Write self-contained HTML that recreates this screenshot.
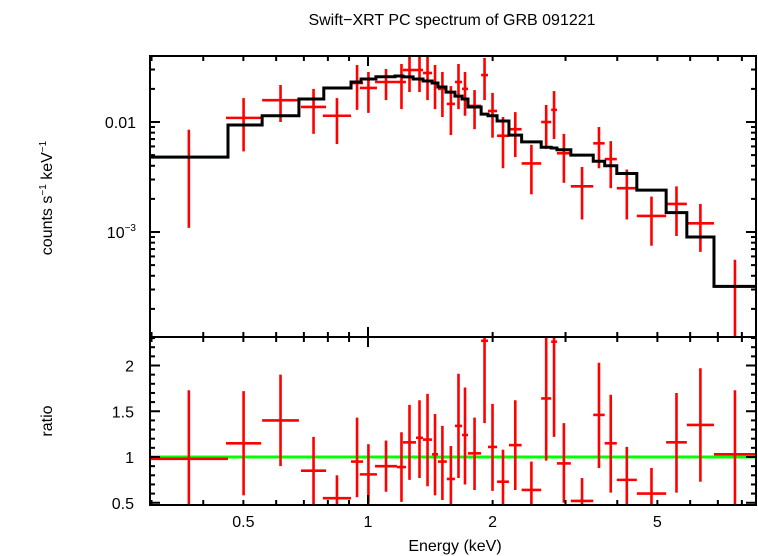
<!DOCTYPE html>
<html><head><meta charset="utf-8"><style>
body{margin:0;background:#fff}
svg{display:block;font-family:"Liberation Sans",sans-serif}
</style></head><body>
<svg id="chart" width="758" height="556" viewBox="0 0 758 556" xmlns="http://www.w3.org/2000/svg">
<defs>
<clipPath id="ctop"><rect x="150" y="56" width="606" height="281"/></clipPath>
<clipPath id="cbot"><rect x="150" y="337" width="606" height="168"/></clipPath>
</defs>
<text x="452" y="25" font-size="16" text-anchor="middle">Swift−XRT PC spectrum of GRB 091221</text>
<text transform="translate(52,198) rotate(-90)" font-size="16" text-anchor="middle">counts s<tspan font-size="10" dy="-6">−1</tspan><tspan dy="6"> keV</tspan><tspan font-size="10" dy="-6">−1</tspan></text>
<text transform="translate(52,421) rotate(-90)" font-size="16" text-anchor="middle">ratio</text>
<text x="455" y="551" font-size="16" text-anchor="middle">Energy (keV)</text>
<g id="gTop"></g>
<g id="gBot"></g>
<g id="gAxes"></g>
</svg>
<script>
const modelEdges=[0.297,0.459,0.555,0.681,0.782,0.910,0.962,1.045,1.162,1.215,1.285,1.358,1.428,1.476,1.543,1.622,1.687,1.744,1.876,1.949,2.05,2.19,2.35,2.62,2.77,2.86,3.09,3.50,3.73,3.99,4.46,5.25,5.89,6.85,8.65];
const modelVals=[0.0048,0.0094,0.0114,0.0162,0.0204,0.0231,0.0246,0.0258,0.0262,0.0257,0.0246,0.0236,0.0226,0.0208,0.0187,0.0172,0.0162,0.0137,0.0118,0.0114,0.0102,0.0076,0.0066,0.0059,0.0058,0.0056,0.0050,0.0044,0.0040,0.0034,0.0024,0.0015,0.00090,0.00032];
const eLo=[0.297,0.454,0.555,0.689,0.778,0.910,0.956,1.040,1.175,1.215,1.306,1.358,1.428,1.476,1.55,1.622,1.687,1.744,1.876,1.949,2.05,2.19,2.35,2.62,2.77,2.86,3.09,3.50,3.73,3.99,4.46,5.25,5.89,6.85];
const eHi=[0.459,0.552,0.681,0.792,0.910,0.973,1.051,1.175,1.235,1.306,1.358,1.428,1.476,1.55,1.622,1.687,1.744,1.876,1.949,2.05,2.19,2.35,2.62,2.77,2.86,3.09,3.50,3.73,3.99,4.46,5.25,5.89,6.85,8.65];
const flux=[0.0048,0.0109,0.0158,0.0137,0.0114,0.0226,0.0204,0.0231,0.0231,0.0297,0.0297,0.0279,0.0226,0.0200,0.0146,0.0231,0.0200,0.0140,0.0267,0.0126,0.0075,0.0086,0.0042,0.0100,0.0129,0.0052,0.0026,0.0064,0.0046,0.0025,0.0014,0.0018,0.0012,0.00032];
const fluxHi=[0.0085,0.0165,0.0217,0.0200,0.0165,0.0330,0.0285,0.0303,0.0337,0.0406,0.0406,0.0406,0.0330,0.0285,0.0212,0.0337,0.0285,0.0195,0.0382,0.0184,0.0111,0.0123,0.0062,0.0143,0.0191,0.0078,0.0039,0.0090,0.0067,0.0037,0.0021,0.0026,0.0018,0.00056];
const fluxLo=[0.00109,0.0054,0.0100,0.0078,0.0063,0.0129,0.0121,0.0158,0.0131,0.0187,0.0187,0.0158,0.0131,0.0111,0.0076,0.0131,0.0114,0.0086,0.0158,0.0072,0.0038,0.0048,0.0022,0.0057,0.0070,0.0028,0.0013,0.0038,0.0025,0.0013,0.00075,0.00092,0.00066,0.00005];
const ratio=[0.98,1.15,1.40,0.85,0.55,0.95,0.81,0.90,0.89,1.16,1.21,1.19,1.03,0.95,0.76,1.34,1.24,1.04,2.27,1.11,0.73,1.13,0.64,1.64,2.26,0.93,0.52,1.46,1.15,0.75,0.60,1.16,1.35,1.03];
const ratioHi=[1.73,1.72,1.90,1.22,0.80,1.43,1.14,1.18,1.27,1.57,1.62,1.69,1.47,1.34,1.12,1.91,1.76,1.43,2.6,1.58,1.08,1.62,0.95,2.6,2.6,1.37,0.77,2.03,1.68,1.11,0.88,1.70,1.97,1.73];
const ratioLo=[0.4,0.58,0.90,0.47,0.4,0.56,0.49,0.62,0.51,0.75,0.77,0.68,0.58,0.53,0.4,0.77,0.70,0.64,1.37,0.63,0.4,0.64,0.4,0.96,1.22,0.50,0.4,0.88,0.61,0.4,0.4,0.61,0.73,0.4];
const topTickVals=[0.01,0.001];
const ratioTickVals=[0.5,1,1.5,2];
const xTickVals=[0.5,1,2,5];
const xTickLabels=["0.5","1","2","5"];

const X0=150,X1=756,YT0=56,YT1=337,YB1=505;
const xs=e=>368+414*Math.log10(e);
const yf=f=>122-110*(Math.log10(f)+2);
const yr=r=>457-91.5*(r-1);
const NS="http://www.w3.org/2000/svg";
function mk(tag,attrs,parent){const el=document.createElementNS(NS,tag);for(const k in attrs)el.setAttribute(k,attrs[k]);parent.appendChild(el);return el;}
const gTop=document.getElementById('gTop'),gBot=document.getElementById('gBot'),gA=document.getElementById('gAxes');
const ct=mk('g',{'clip-path':'url(#ctop)'},gTop);
const cb=mk('g',{'clip-path':'url(#cbot)'},gBot);

// data top
for(let i=0;i<flux.length;i++){
  const xc=xs(Math.sqrt(eLo[i]*eHi[i]));
  const g=mk('g',{stroke:'#ff0000','stroke-width':2.6,fill:'none'},ct);
  
  
  mk('line',{x1:xs(eLo[i]),x2:xs(eHi[i]),y1:yf(flux[i]),y2:yf(flux[i])},g);
  mk('line',{x1:xc,x2:xc,y1:yf(fluxHi[i]),y2:yf(fluxLo[i])},g);
}
// model
let d='';
for(let i=0;i<modelVals.length;i++){
  const y=yf(modelVals[i]);
  d+=(i===0?'M':'L')+xs(modelEdges[i])+','+y+'L'+xs(modelEdges[i+1])+','+y;
}
const mp=mk('path',{d:d,stroke:'#000','stroke-width':3,fill:'none'},ct);



// ratio
const gl=mk('line',{x1:X0,x2:X1,y1:yr(1),y2:yr(1),stroke:'#00ff00','stroke-width':3},cb);


for(let i=0;i<ratio.length;i++){
  const xc=xs(Math.sqrt(eLo[i]*eHi[i]));
  const g=mk('g',{stroke:'#ff0000','stroke-width':2.6,fill:'none'},cb);
  
  
  mk('line',{x1:xs(eLo[i]),x2:xs(eHi[i]),y1:yr(ratio[i]),y2:yr(ratio[i])},g);
  mk('line',{x1:xc,x2:xc,y1:yr(ratioHi[i]),y2:yr(ratioLo[i])},g);
}

// axes
const A={stroke:'#000','stroke-width':2,fill:'none'};
const f1=mk('rect',{x:X0,y:YT0,width:X1-X0,height:YT1-YT0,...A},gA);

const f2=mk('rect',{x:X0,y:YT1,width:X1-X0,height:YB1-YT1,...A},gA);

function tk(x1,y1,x2,y2){mk('line',{x1,y1,x2,y2,stroke:'#000','stroke-width':2},gA);}
// x ticks
for(let dec=-1;dec<=0;dec++){for(let m=1;m<=9;m++){
  const e=m*Math.pow(10,dec);const x=xs(e);if(x<X0||x>X1)continue;
  const L=m===1?10:5;
  tk(x,YT0,x,YT0+L);tk(x,YT1,x,YT1-L);tk(x,YT1,x,YT1+L);tk(x,YB1,x,YB1-L);
}}
xTickVals.forEach((v,i)=>{const t=mk('text',{x:xs(v),y:527,'font-size':16,'text-anchor':'middle'},gA);t.textContent=xTickLabels[i];});
// top y ticks
for(let dec=-5;dec<=-1;dec++){for(let m=1;m<=9;m++){
  const f=m*Math.pow(10,dec);const y=yf(f);if(y<YT0||y>YT1)continue;
  const L=m===1?10:5;tk(X0,y,X0+L,y);tk(X1,y,X1-L,y);
}}
const t1=mk('text',{x:136,y:yf(topTickVals[0])+6,'font-size':16,'text-anchor':'end'},gA);t1.textContent='0.01';
const t2=mk('text',{x:136,y:yf(topTickVals[1])+6,'font-size':16,'text-anchor':'end'},gA);
t2.innerHTML='10<tspan font-size="10" dy="-7">−3</tspan>';
// ratio ticks
for(let k=5;k<=23;k++){const r=k/10;const y=yr(r);if(y<YT1||y>YB1)continue;
  const L=(k%5===0)?10:5;tk(X0,y,X0+L,y);tk(X1,y,X1-L,y);}
ratioTickVals.forEach(v=>{const t=mk('text',{x:134,y:yr(v)+6,'font-size':16,'text-anchor':'end'},gA);t.textContent=String(v);});
</script>
</body></html>
